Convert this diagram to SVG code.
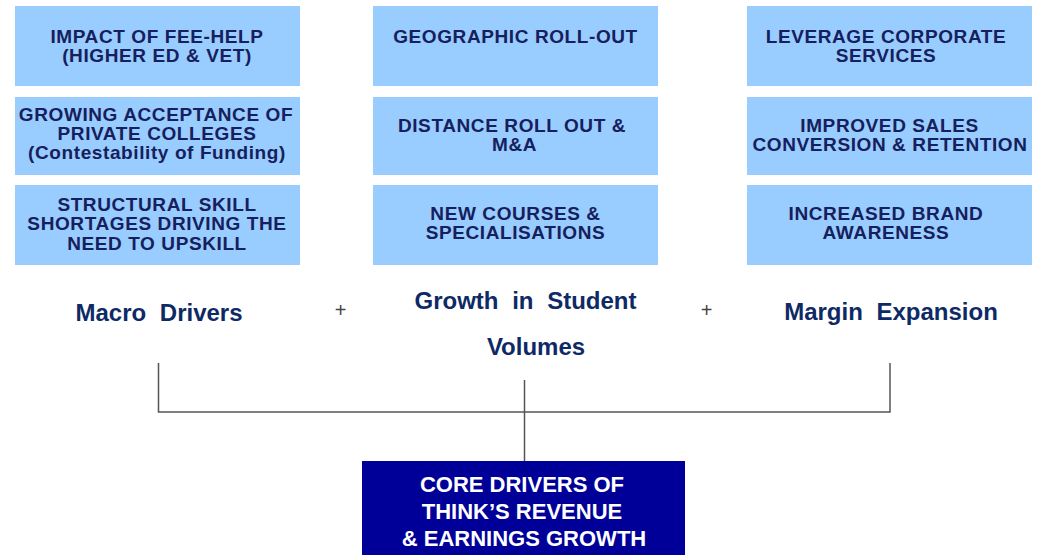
<svg xmlns="http://www.w3.org/2000/svg" width="1039" height="555" viewBox="0 0 1039 555">
  <style>
    .box { fill: #99ccff; }
    .bt { font-family: "Liberation Sans", Arial, sans-serif; font-weight: bold; font-size: 19px; letter-spacing: 0.6px; fill: #15205c; text-anchor: middle; }
    .hd { font-family: "Liberation Sans", Arial, sans-serif; font-weight: bold; font-size: 24px; fill: #0e2a66; text-anchor: middle; word-spacing: 7px; }
    .plus { font-family: "Liberation Sans", Arial, sans-serif; font-size: 20px; fill: #444; text-anchor: middle; }
    .core { fill: #000099; }
    .ct { font-family: "Liberation Sans", Arial, sans-serif; font-weight: bold; font-size: 22px; fill: #ffffff; text-anchor: middle; }
    .wire { fill: none; stroke: #555; stroke-width: 1.5; }
  </style>
  <rect width="1039" height="555" fill="#ffffff"/>

  <!-- Macro drivers column -->
  <g id="fee-help">
    <rect class="box" x="15" y="6" width="285" height="80"/>
    <text class="bt" x="157" y="43">IMPACT OF FEE-HELP</text>
    <text class="bt" x="157" y="62">(HIGHER ED &amp; VET)</text>
  </g>
  <g id="private-colleges">
    <rect class="box" x="15" y="97" width="285" height="78"/>
    <text class="bt" x="156" y="121">GROWING ACCEPTANCE OF</text>
    <text class="bt" x="157" y="140">PRIVATE COLLEGES</text>
    <text class="bt" x="157" y="159">(Contestability of Funding)</text>
  </g>
  <g id="skill-shortages">
    <rect class="box" x="15" y="185" width="285" height="80"/>
    <text class="bt" x="157" y="210.5">STRUCTURAL SKILL</text>
    <text class="bt" x="157" y="230">SHORTAGES DRIVING THE</text>
    <text class="bt" x="157" y="249.5">NEED TO UPSKILL</text>
  </g>

  <!-- Student volume column -->
  <g id="geographic">
    <rect class="box" x="373" y="6" width="285" height="80"/>
    <text class="bt" x="515.5" y="43">GEOGRAPHIC  ROLL-OUT</text>
  </g>
  <g id="distance">
    <rect class="box" x="373" y="97" width="285" height="78"/>
    <text class="bt" x="512" y="131.5">DISTANCE ROLL OUT &amp;</text>
    <text class="bt" x="514.5" y="150.5">M&amp;A</text>
  </g>
  <g id="new-courses">
    <rect class="box" x="373" y="185" width="285" height="80"/>
    <text class="bt" x="515.5" y="220">NEW COURSES &amp;</text>
    <text class="bt" x="515.5" y="239">SPECIALISATIONS</text>
  </g>

  <!-- Margin column -->
  <g id="corporate-services">
    <rect class="box" x="747" y="6" width="285" height="80"/>
    <text class="bt" x="886" y="43">LEVERAGE CORPORATE</text>
    <text class="bt" x="886" y="62">SERVICES</text>
  </g>
  <g id="sales-conversion">
    <rect class="box" x="747" y="97" width="285" height="78"/>
    <text class="bt" x="889.5" y="132">IMPROVED SALES</text>
    <text class="bt" x="890" y="151">CONVERSION &amp; RETENTION</text>
  </g>
  <g id="brand-awareness">
    <rect class="box" x="747" y="185" width="285" height="80"/>
    <text class="bt" x="886" y="220">INCREASED BRAND</text>
    <text class="bt" x="886" y="239">AWARENESS</text>
  </g>

  <!-- Column headings -->
  <g id="macro-drivers">
    <text class="hd" x="159" y="321">Macro Drivers</text>
  </g>
  <g id="plus-1">
    <text class="plus" x="340.5" y="317">+</text>
  </g>
  <g id="student-volumes">
    <text class="hd" x="525.5" y="309">Growth in Student</text>
    <text class="hd" x="536" y="355">Volumes</text>
  </g>
  <g id="plus-2">
    <text class="plus" x="706.5" y="317">+</text>
  </g>
  <g id="margin-expansion">
    <text class="hd" x="891" y="320">Margin Expansion</text>
  </g>

  <!-- Bracket joining the three headings into the core box -->
  <g id="connectors">
    <path class="wire" d="M158.5 363 V412 H890 V363"/>
    <path class="wire" d="M524.5 380 V461" stroke="#333"/>
  </g>

  <g id="core-drivers">
    <rect class="core" x="362" y="461" width="323" height="100"/>
    <text class="ct" x="522" y="492">CORE DRIVERS OF</text>
    <text class="ct" x="522" y="519">THINK’S REVENUE</text>
    <text class="ct" x="524" y="546">&amp; EARNINGS GROWTH</text>
  </g>
</svg>
